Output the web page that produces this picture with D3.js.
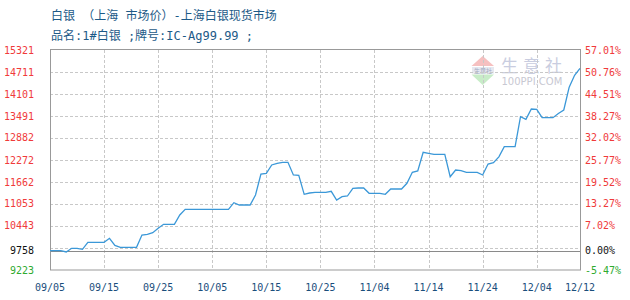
<!DOCTYPE html>
<html>
<head>
<meta charset="utf-8">
<script src="https://cdn.jsdelivr.net/npm/d3@7"></script>
<style>
  body { margin: 0; background: #fff; }
  svg text { font-family: "DejaVu Sans Mono", "Noto Sans CJK SC", monospace; }
</style>
</head>
<body>
<svg id="chart" width="630" height="300"></svg>
<script>
// daily prices, starting 2025-09-05 (weekends / holidays carry the last price)
var startDate = "2025-09-05";
var prices = [
  9758, 9758, 9758, 9723, 9825, 9825, 9797, 9991, 9991, 9991,
  9991, 10102, 9905, 9852, 9852, 9852, 9852, 10193, 10212, 10257,
  10379, 10490, 10490, 10490, 10748, 10905, 10905, 10905, 10905, 10905,
  10905, 10905, 10905, 10905, 11089, 11025, 11025, 11025, 11302, 11880,
  11903, 12134, 12180, 12208, 12208, 11857, 11848, 11321, 11357, 11376,
  11376, 11376, 11404, 11163, 11255, 11274, 11488, 11496, 11496, 11349,
  11349, 11349, 11321, 11468, 11468, 11468, 11626, 11931, 11967, 12486,
  12458, 12430, 12430, 12430, 11809, 11995, 11976, 11931, 11931, 11931,
  11857, 12161, 12197, 12360, 12641, 12641, 12641, 13473, 13400, 13686,
  13677, 13445, 13445, 13445, 13560, 13658, 14290, 14620, 14814
];
var basePrice = 9758;
var yMin = 9223, yMax = 15321;

var leftTicks = [15321, 14711, 14101, 13491, 12882, 12272, 11662, 11053, 10443, 9758, 9223];
var rightTicks = ["57.01%", "50.76%", "44.51%", "38.27%", "32.02%", "25.77%", "19.52%", "13.27%", "7.02%", "0.00%", "-5.47%"];
var xTicks = ["09/05", "09/15", "09/25", "10/05", "10/15", "10/25", "11/04", "11/14", "11/24", "12/04", "12/12"];

var title1 = "白银 （上海 市场价）-上海白银现货市场";
var title2 = "品名:1#白银 ;牌号:IC-Ag99.99 ;";

var parseDay = d3.timeParse("%Y-%m-%d");
var start = parseDay(startDate);
var data = prices.map(function(v, i) {
  return { date: d3.timeDay.offset(start, i), value: v };
});
var tickDates = xTicks.map(function(t) {
  return d3.timeParse("%Y/%m/%d")("2025/" + t);
});

var plotLeft = 50, plotRight = 580, plotTop = 50, plotBottom = 270;
var svg = d3.select("#chart");

var x = d3.scaleTime()
  .domain([start, data[data.length - 1].date])
  .range([plotLeft, plotRight]);
var y = d3.scaleLinear()
  .domain([yMin, yMax])
  .range([plotBottom, plotTop]);

// title
svg.append("text").attr("x", 51).attr("y", 19.5)
  .attr("fill", "#1d5a87").style("font-size", "12px").text(title1);
svg.append("text").attr("x", 51).attr("y", 39.5)
  .attr("fill", "#1d5a87").style("font-size", "12px").text(title2);

// watermark
var wm = svg.append("g");
wm.append("path").attr("d", "M482.7,56 L494,66 L471.5,66 Z").attr("fill", "#f6c0c0");
wm.append("rect").attr("x", 472).attr("y", 67).attr("width", 22).attr("height", 6.5).attr("fill", "#e6e8f0");
wm.append("text").attr("x", 483).attr("y", 72.8).attr("text-anchor", "middle")
  .attr("fill", "#a0a8c0").style("font-size", "6px").text("生意社");
wm.append("path").attr("d", "M471.5,74.5 L494,74.5 L482.7,85 Z").attr("fill", "#c8ecc8");
wm.append("text").attr("x", 501).attr("y", 72).attr("fill", "#c9cde0")
  .style("font-size", "17px").style("letter-spacing", "5px").style("font-family", "Noto Sans CJK SC").text("生意社");
wm.append("text").attr("x", 501.5).attr("y", 84.5).attr("fill", "#c8c8d2")
  .style("font-size", "10px").style("font-family", "DejaVu Sans").text("100PPI.COM");

// horizontal grid every tenth of the range
var gridVals = d3.range(1, 10).map(function(i) { return yMin + i * (yMax - yMin) / 10; });
svg.append("g").selectAll("line").data(gridVals).enter().append("line")
  .attr("x1", plotLeft).attr("x2", plotRight)
  .attr("y1", function(d) { return Math.round(y(d)) + 0.5; })
  .attr("y2", function(d) { return Math.round(y(d)) + 0.5; })
  .attr("stroke", "#c8c8c8").attr("stroke-dasharray", "3,2");

// vertical grid
svg.append("g").selectAll("line").data(tickDates.slice(1, -1)).enter().append("line")
  .attr("x1", function(d) { return Math.round(x(d)) + 0.5; })
  .attr("x2", function(d) { return Math.round(x(d)) + 0.5; })
  .attr("y1", plotTop).attr("y2", plotBottom)
  .attr("stroke", "#c8c8c8").attr("stroke-dasharray", "3,2");

// base price line
svg.append("line")
  .attr("x1", plotLeft).attr("x2", plotRight)
  .attr("y1", Math.round(y(basePrice)) + 0.5).attr("y2", Math.round(y(basePrice)) + 0.5)
  .attr("stroke", "#8a8a8a");

// frame
svg.append("rect").attr("x", plotLeft + 0.5).attr("y", plotTop - 0.5)
  .attr("width", plotRight - plotLeft).attr("height", plotBottom - plotTop + 0.5)
  .attr("fill", "none").attr("stroke", "#999");

// price line
var line = d3.line()
  .x(function(d) { return x(d.date); })
  .y(function(d) { return y(d.value); });
svg.append("path").datum(data)
  .attr("d", line)
  .attr("fill", "none")
  .attr("stroke", "#3b98d8")
  .attr("stroke-width", 1.3);

function tickColor(v) {
  return v > basePrice ? "#f03a3a" : (v < basePrice ? "#2faa2f" : "#111");
}

// left axis labels
svg.append("g").selectAll("text").data(leftTicks).enter().append("text")
  .attr("x", 34).attr("y", function(d) { return y(d); })
  .attr("dy", "0.35em").attr("text-anchor", "end")
  .attr("fill", tickColor).style("font-size", "10px")
  .text(function(d) { return d; });

// right axis labels
svg.append("g").selectAll("text").data(rightTicks).enter().append("text")
  .attr("x", 585).attr("y", function(d, i) { return y(leftTicks[i]); })
  .attr("dy", "0.35em")
  .attr("fill", function(d, i) { return tickColor(leftTicks[i]); })
  .style("font-size", "10px")
  .text(function(d) { return d; });

// date labels
svg.append("g").selectAll("text").data(tickDates).enter().append("text")
  .attr("x", function(d) { return x(d); }).attr("y", 290.5)
  .attr("text-anchor", "middle")
  .attr("fill", "#1a4e7c").style("font-size", "10px")
  .text(function(d, i) { return xTicks[i]; });
</script>
</body>
</html>
